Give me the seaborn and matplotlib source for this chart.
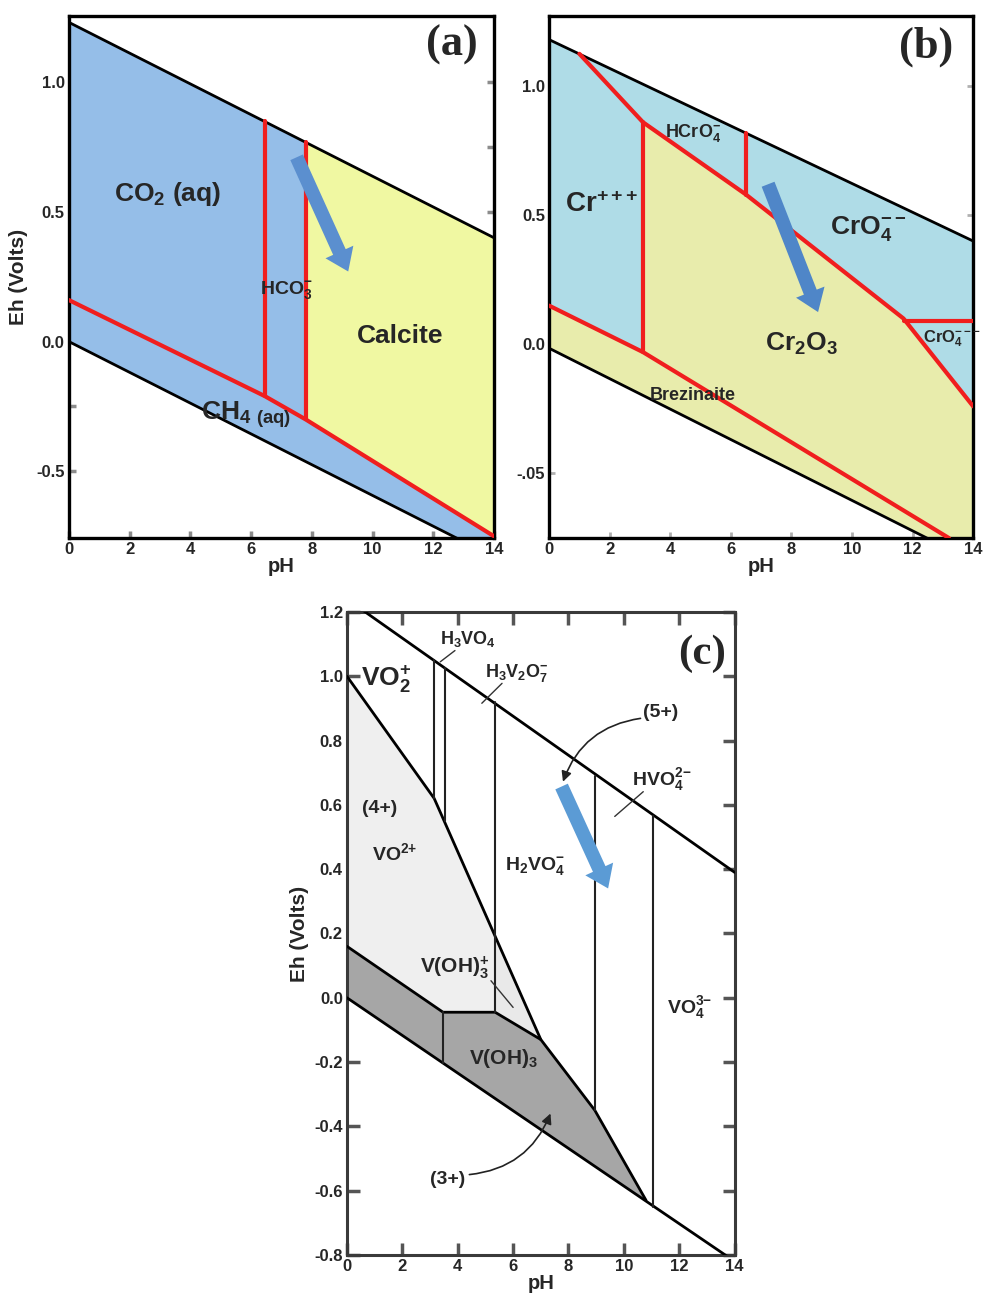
import numpy as np
import seaborn as sns
import matplotlib.pyplot as plt

# ---------------- panel (a) : Eh-pH, C-Ca system ----------------
a_ph_ends = [0, 14]
a_eh_o2 = [1.23, 0.40]
a_eh_h2 = [0.00, -0.83]
a_red_ph = [0, 6.45, 7.8, 14]
a_red_eh = [0.16, -0.21, -0.30, -0.75]
a_vert_ph = [6.45, 7.8]
a_vert_lo = [-0.21, -0.30]
a_vert_hi = [0.85, 0.77]
a_calcite_ph = [7.8, 7.8, 14, 14]
a_calcite_eh = [-0.30, 0.77, 0.40, -0.75]
a_arrow = [(7.5, 0.71), (9.2, 0.27)]
a_labels = [r'CO$_2$ (aq)', r'HCO$_3^{{-}}$', 'Calcite', r'CH$_{4\ (aq)}$']
a_yticks = [-0.5, 0.0, 0.5, 1.0]
a_yticklabels = ['-0.5', '0.0', '0.5', '1.0']

# ---------------- panel (b) : Eh-pH, Cr system ----------------
b_eh_o2 = [1.18, 0.40]
b_eh_h2 = [-0.015, -0.84]
b_low_ph = [0, 3.1, 13.2]
b_low_eh = [0.15, -0.03, -0.75]
b_top_ph = [1.0, 3.1, 6.5, 11.7, 14]
b_top_eh = [1.125, 0.86, 0.58, 0.10, -0.24]
b_vert_ph = [3.1, 6.5]
b_vert_lo = [-0.03, 0.58]
b_vert_hi = [0.86, 0.82]
b_hor_ph = [11.7, 14]
b_hor_eh = [0.09, 0.09]
b_arrow = [(7.23, 0.62), (8.88, 0.125)]
b_labels = [r'Cr$^{{+}\,{+}\,{+}}$', r'HCrO$_4^{{-}}$', r'CrO$_4^{{-}\,{-}}$', r'Cr$_2$O$_3$',
            r'CrO$_4^{{-}\,{-}\,{-}}$', 'Brezinaite']
b_yticks = [-0.5, 0.0, 0.5, 1.0]
b_yticklabels = ['-.05', '0.0', '0.5', '1.0']

# ---------------- panel (c) : Eh-pH, V system ----------------
c_eh_o2 = [1.24, 0.39]
c_eh_h2 = [0.0, -0.82]
c_v45_ph = [0, 3.15, 7.0, 8.95, 10.8]
c_v45_eh = [1.0, 0.62, -0.13, -0.35, -0.63]
c_voh3_ph = [0, 3.47, 5.35, 7.0]
c_voh3_eh = [0.16, -0.045, -0.045, -0.13]
c_vert_ph = [3.15, 3.55, 5.35, 8.95, 11.05, 3.47]
c_vert_lo = [0.62, 0.55, -0.045, -0.35, -0.65, -0.203]
c_vert_hi = [1.05, 1.025, 0.92, 0.69, 0.565, -0.045]
c_arrow = [(7.75, 0.657), (9.43, 0.34)]
c_labels = [r'VO$_2^{{+}}$', r'H$_3$VO$_4$', r'H$_3$V$_2$O$_7^{{-}}$', '(5+)', r'HVO$_4^{2{-}}$',
            '(4+)', r'VO$^{2{+}}$', r'H$_2$VO$_4^{{-}}$', r'V(OH)$_3^{{+}}$', r'V(OH)$_3$',
            r'VO$_4^{3{-}}$', '(3+)']
c_yticks = [-0.8, -0.6, -0.4, -0.2, 0.0, 0.2, 0.4, 0.6, 0.8, 1.0, 1.2]
c_yticklabels = ['-0.8', '-0.6', '-0.4', '-0.2', '0.0', '0.2', '0.4', '0.6', '0.8', '1.0', '1.2']

x_ticks = [0, 2, 4, 6, 8, 10, 12, 14]
x_ticklabels = ['0', '2', '4', '6', '8', '10', '12', '14']

sns.set_theme(style='white')
plt.rcParams['font.family'] = ['Liberation Sans', 'DejaVu Sans']
plt.rcParams['font.weight'] = 'bold'
plt.rcParams['mathtext.fontset'] = 'custom'
plt.rcParams['mathtext.default'] = 'regular'

RED = '#f01e1e'


def draw_line(ax, xs, ys, color, lw, z=3):
    sns.lineplot(x=xs, y=ys, sort=False, estimator=None, color=color,
                 linewidth=lw, ax=ax, legend=False, zorder=z)


def fat_arrow(ax, tail, head, color):
    ax.annotate('', xy=head, xytext=tail, zorder=6,
                arrowprops=dict(arrowstyle='simple,head_length=0.7,head_width=1.0,tail_width=0.45',
                                fc=color, ec='none', mutation_scale=22,
                                shrinkA=0, shrinkB=0))


def style_axes(ax, ylim, yticks, yticklabels, lw, color):
    ax.set_xlim(0, 14)
    ax.set_ylim(*ylim)
    ax.set_xticks(x_ticks)
    ax.set_xticklabels(x_ticklabels)
    ax.set_yticks(yticks)
    ax.set_yticklabels(yticklabels)
    ax.set_xlabel('pH', fontsize=14.5, fontweight='bold', labelpad=0)
    for s in ax.spines.values():
        s.set_visible(True)
        s.set_linewidth(lw)
        s.set_color(color)


fig = plt.figure(figsize=(9.84, 12.99), dpi=100)

# ===== (a) =====
ax = fig.add_axes([0.070, 0.5858, 0.432, 0.402])
ax.fill_between(a_ph_ends, a_eh_h2, a_eh_o2, color='#95bee8', lw=0, zorder=1)
ax.fill(a_calcite_ph, a_calcite_eh, color='#f0f8a2', lw=0, zorder=1)
draw_line(ax, a_ph_ends, a_eh_o2, 'black', 2.0)
draw_line(ax, a_ph_ends, a_eh_h2, 'black', 2.0)
draw_line(ax, a_red_ph, a_red_eh, RED, 3.0, 4)
for x, lo, hi in zip(a_vert_ph, a_vert_lo, a_vert_hi):
    draw_line(ax, [x, x], [lo, hi], RED, 3.0, 4)
fat_arrow(ax, a_arrow[0], a_arrow[1], '#5b8fcf')
style_axes(ax, (-0.757, 1.255), a_yticks, a_yticklabels, 2.4, 'black')
ax.set_yticks([-0.25, 0.25, 0.75], minor=True)
ax.tick_params(direction='in', length=5, width=2.5, color='#8c8c8c', labelsize=12,
               left=True, right=True, bottom=True, pad=3)
ax.tick_params(which='minor', direction='in', length=5, width=2.5, color='#8c8c8c',
               left=True, right=True)
ax.set_ylabel('Eh (Volts)', fontsize=15, fontweight='bold', labelpad=6)
for txt, x, y, fs in zip(a_labels, [1.5, 6.3, 9.5, 4.35], [0.57, 0.20, 0.02, -0.28], [19, 14, 19, 19]):
    ax.text(x, y, txt, fontsize=fs, fontweight='bold', ha='left', va='center', zorder=7)
ax.text(0.90, 0.945, '(a)', transform=ax.transAxes, fontsize=32, fontweight='bold',
        family='Liberation Serif', ha='center', va='center', zorder=7)

# ===== (b) =====
ax = fig.add_axes([0.558, 0.5858, 0.431, 0.402])
ax.fill_between(a_ph_ends, b_eh_h2, b_eh_o2, color='#afdce7', lw=0, zorder=1)
poly_ph = b_low_ph[:2] + b_top_ph[1:] + [14, 14, 0]
poly_eh = b_low_eh[:2] + b_top_eh[1:] + [-0.84, -0.84, b_eh_h2[0]]
ax.fill(poly_ph, poly_eh, color='#e8ecac', lw=0, zorder=1)
draw_line(ax, a_ph_ends, b_eh_o2, 'black', 2.0)
draw_line(ax, a_ph_ends, b_eh_h2, 'black', 2.0)
draw_line(ax, b_low_ph, b_low_eh, RED, 3.0, 4)
draw_line(ax, b_top_ph, b_top_eh, RED, 3.0, 4)
draw_line(ax, b_hor_ph, b_hor_eh, RED, 3.0, 4)
for x, lo, hi in zip(b_vert_ph, b_vert_lo, b_vert_hi):
    draw_line(ax, [x, x], [lo, hi], RED, 3.0, 4)
fat_arrow(ax, b_arrow[0], b_arrow[1], '#4f86c8')
style_axes(ax, (-0.75, 1.272), b_yticks, b_yticklabels, 2.4, 'black')
ax.tick_params(direction='in', length=4, width=2, color='#b0b0b0', labelsize=12,
               left=True, right=True, bottom=True, pad=3)
for txt, x, y, fs in zip(b_labels, [0.52, 3.83, 9.26, 7.12, 12.35, 3.32],
                         [0.54, 0.82, 0.45, 0.0, 0.02, -0.197], [20, 13, 19, 19, 12, 13]):
    ax.text(x, y, txt, fontsize=fs, fontweight='bold', ha='left', va='center', zorder=7)
ax.text(0.89, 0.94, '(b)', transform=ax.transAxes, fontsize=32, fontweight='bold',
        family='Liberation Serif', ha='center', va='center', zorder=7)

# ===== (c) =====
ax = fig.add_axes([0.3526, 0.0339, 0.394, 0.495])
vo2_ph = [0, 3.15, 5.35, 5.35, 3.47, 0]
vo2_eh = [1.0, 0.62, 0.20, -0.045, -0.045, 0.16]
ax.fill(vo2_ph, vo2_eh, color='#efefef', lw=0, zorder=1)
ax.fill([5.35, 5.35, 7.0], [0.20, -0.045, -0.13], color='#e9e9e9', lw=0, zorder=1)
grey_ph = c_voh3_ph + c_v45_ph[2:] + [0]
grey_eh = c_voh3_eh + c_v45_eh[2:] + [0.0]
ax.fill(grey_ph, grey_eh, color='#a6a6a6', lw=0, zorder=1)
draw_line(ax, a_ph_ends, c_eh_o2, 'black', 2.0)
draw_line(ax, a_ph_ends, c_eh_h2, 'black', 2.0)
draw_line(ax, c_v45_ph, c_v45_eh, 'black', 2.0)
draw_line(ax, c_voh3_ph, c_voh3_eh, 'black', 2.0)
for x, lo, hi in zip(c_vert_ph, c_vert_lo, c_vert_hi):
    draw_line(ax, [x, x], [lo, hi], '#222222', 1.5)
fat_arrow(ax, c_arrow[0], c_arrow[1], '#5b9bd5')
# leader lines
for (x0, y0), (x1, y1) in [((3.9, 1.08), (3.37, 1.045)), ((5.6, 0.978), (4.87, 0.916)),
                           ((10.7, 0.641), (9.67, 0.564)), ((5.2, 0.053), (6.0, -0.03))]:
    draw_line(ax, [x0, x1], [y0, y1], '#333333', 1.0, 5)
ax.annotate('', xy=(7.8, 0.672), xytext=(10.6, 0.869), zorder=6,
            arrowprops=dict(arrowstyle='-|>,head_length=0.5,head_width=0.25', color='#222222',
                            lw=1.2, connectionstyle='arc3,rad=0.3', shrinkA=0, shrinkB=0))
ax.annotate('', xy=(7.35, -0.36), xytext=(4.42, -0.55), zorder=6,
            arrowprops=dict(arrowstyle='-|>,head_length=0.5,head_width=0.25', color='#222222',
                            lw=1.2, connectionstyle='arc3,rad=0.3', shrinkA=0, shrinkB=0))
style_axes(ax, (-0.8, 1.2), c_yticks, c_yticklabels, 2.2, '#3a3a3a')
ax.tick_params(direction='in', length=9, width=2.5, color='#555555', labelsize=12,
               left=True, right=True, bottom=True, top=True, pad=3)
ax.set_ylabel('Eh (Volts)', fontsize=15, fontweight='bold', labelpad=4)
c_lx = [0.5, 3.37, 5.0, 10.7, 10.3, 0.54, 0.9, 5.7, 2.62, 4.4, 11.56, 3.0]
c_ly = [0.99, 1.117, 1.01, 0.886, 0.68, 0.59, 0.45, 0.41, 0.095, -0.19, -0.03, -0.566]
c_fs = [19, 13, 13, 14, 14, 14, 14, 14, 15, 15, 14, 14]
for txt, x, y, fs in zip(c_labels, c_lx, c_ly, c_fs):
    ax.text(x, y, txt, fontsize=fs, fontweight='bold', ha='left', va='center', zorder=7)
ax.text(0.915, 0.935, '(c)', transform=ax.transAxes, fontsize=31, fontweight='bold',
        family='Liberation Serif', ha='center', va='center', zorder=7)

fig.savefig('out.png', dpi=100)
